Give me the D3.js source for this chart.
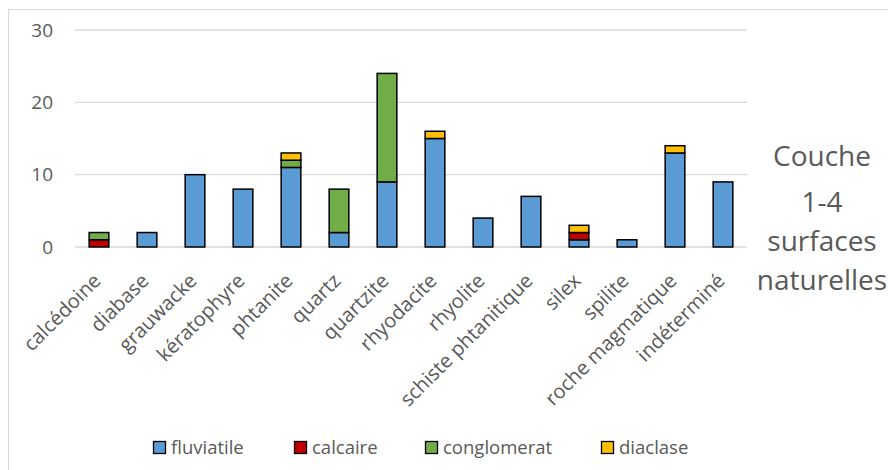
<!DOCTYPE html>
<html><head><meta charset="utf-8">
<script src="https://cdn.jsdelivr.net/npm/d3@7"></script>
<style>body{margin:0;background:#fff;}svg{display:block;font-family:"Open Sans",sans-serif;}</style>
</head><body>
<svg id="c" width="888" height="470"></svg>
<script>
const categories = ["calcédoine","diabase","grauwacke","kératophyre","phtanite","quartz","quartzite","rhyodacite","rhyolite","schiste phtanitique","silex","spilite","roche magmatique","indéterminé"];
const seriesNames = ["fluviatile","calcaire","conglomerat","diaclase"];
const fluviatile  = [0,2,10,8,11,2,9,15,4,7,1,1,13,9];
const calcaire    = [1,0,0,0,0,0,0,0,0,0,1,0,0,0];
const conglomerat = [1,0,0,0,1,6,15,0,0,0,0,0,0,0];
const diaclase    = [0,0,0,0,1,0,0,1,0,0,1,0,1,0];
const yTicks = [0,10,20,30];
const colors = ["#5B9BD5","#C00000","#70AD47","#FFC000"];
const titleLines = ["Couche","1-4","surfaces","naturelles"];

const rows = categories.map((c,i)=>({cat:c,fluviatile:fluviatile[i],calcaire:calcaire[i],conglomerat:conglomerat[i],diaclase:diaclase[i]}));
const svg = d3.select("#c");
svg.append("rect").attr("x",8.5).attr("y",9.5).attr("width",900).attr("height",500)
  .attr("fill","none").attr("stroke","#d9d9d9").attr("stroke-width",1);

const x = d3.scaleBand().domain(categories).range([75,747]).paddingInner(0.59).paddingOuter(0.295);
const y = d3.scaleLinear().domain([0,30]).range([247,30]);

const grid = svg.append("g");
yTicks.forEach(t=>{
  grid.append("line").attr("x1",75).attr("x2",747).attr("y1",y(t)).attr("y2",y(t))
    .attr("stroke","#d9d9d9").attr("stroke-width",t===0?1.5:1.3);
});
const yAxis = svg.append("g").attr("transform","translate(53,0)")
  .call(d3.axisLeft(y).tickValues(yTicks).tickSize(0).tickPadding(0));
yAxis.select(".domain").remove();
yAxis.selectAll("text").attr("font-size",19).attr("fill","#595959").attr("font-family","'Open Sans',sans-serif");

const stack = d3.stack().keys(seriesNames)(rows);
svg.append("g").selectAll("g").data(stack).join("g")
  .attr("fill",(d,i)=>colors[i])
  .selectAll("rect").data(d=>d.filter(p=>p[1]-p[0]>0)).join("rect")
  .attr("x",d=>x(d.data.cat)).attr("width",x.bandwidth())
  .attr("y",d=>y(d[1])).attr("height",d=>y(d[0])-y(d[1]))
  .attr("stroke","#000").attr("stroke-width",1.5);

const xAxis = svg.append("g").attr("transform","translate(0,247)")
  .call(d3.axisBottom(x).tickSize(0).tickPadding(0));
xAxis.select(".domain").remove();
xAxis.selectAll("text")
  .attr("font-size",20).attr("fill","#595959").attr("font-family","'Open Sans',sans-serif")
  .attr("text-anchor","end").attr("dy",null).attr("y",0)
  .attr("transform","translate(3,35) rotate(-45)");

const tys=[166,212,251,290];
titleLines.forEach((t,i)=>{
  svg.append("text").attr("x",822).attr("y",tys[i]).attr("text-anchor","middle")
    .attr("font-size",28).attr("fill","#595959").text(t);
});

const legX=[153,294,425,601];
const leg = svg.append("g");
seriesNames.forEach((s,i)=>{
  leg.append("rect").attr("x",legX[i]+0.5).attr("y",441.5).attr("width",12).attr("height",12)
    .attr("fill",colors[i]).attr("stroke","#000").attr("stroke-width",1.3);
  leg.append("text").attr("x",legX[i]+18).attr("y",454).attr("font-size",18.5).attr("fill","#595959").text(s);
});
</script>
</body></html>
